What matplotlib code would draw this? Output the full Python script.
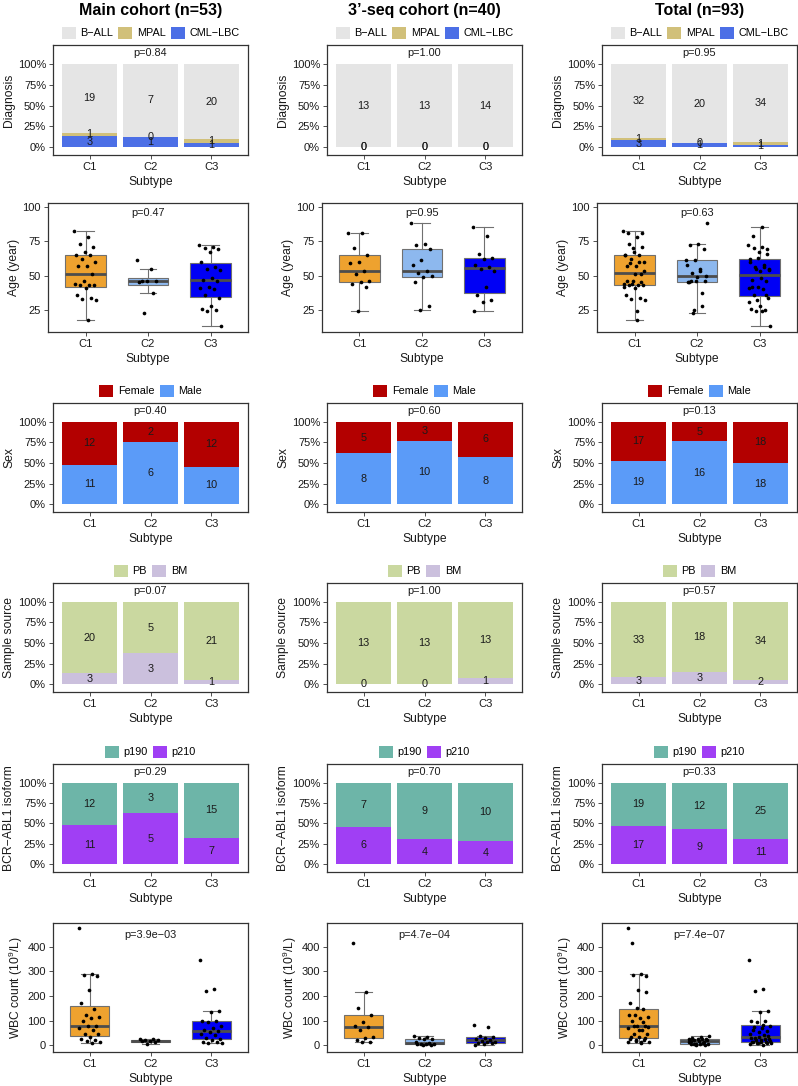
import numpy as np
import matplotlib.pyplot as plt
from matplotlib.patches import Patch

plt.rcParams['font.family'] = ['Liberation Sans', 'DejaVu Sans']
plt.rcParams['mathtext.fontset'] = 'custom'
plt.rcParams['mathtext.rm'] = 'Liberation Sans'
plt.rcParams['mathtext.default'] = 'regular'

MINUS = '\u2212'
subtypes = ['C1', 'C2', 'C3']
cohort_titles = ['Main cohort (n=53)', '3\u2019-seq cohort (n=40)', 'Total (n=93)']

# stacked bar counts: rows = levels (top of stack first), columns = C1, C2, C3
diag_levels = ['B' + MINUS + 'ALL', 'MPAL', 'CML' + MINUS + 'LBC']
diag_colors = ['#E5E5E5', '#D1C07A', '#4C6FE6']
diag_main = [[19, 7, 20], [1, 0, 1], [3, 1, 1]]
diag_seq = [[13, 13, 14], [0, 0, 0], [0, 0, 0]]
diag_total = [[32, 20, 34], [1, 0, 1], [3, 1, 1]]
diag_p = ['0.84', '1.00', '0.95']

sex_levels = ['Female', 'Male']
sex_colors = ['#B30000', '#5B9BF8']
sex_main = [[12, 2, 12], [11, 6, 10]]
sex_seq = [[5, 3, 6], [8, 10, 8]]
sex_total = [[17, 5, 18], [19, 16, 18]]
sex_p = ['0.40', '0.60', '0.13']

src_levels = ['PB', 'BM']
src_colors = ['#CAD8A0', '#CBC0DD']
src_main = [[20, 5, 21], [3, 3, 1]]
src_seq = [[13, 13, 13], [0, 0, 1]]
src_total = [[33, 18, 34], [3, 3, 2]]
src_p = ['0.07', '1.00', '0.57']

bcr_levels = ['p190', 'p210']
bcr_colors = ['#6DB5A8', '#A03FF4']
bcr_main = [[12, 3, 15], [11, 5, 7]]
bcr_seq = [[7, 9, 10], [6, 4, 4]]
bcr_total = [[19, 12, 25], [17, 9, 11]]
bcr_p = ['0.29', '0.70', '0.33']

# age (years) per subtype
age_main_c1 = [82, 78, 73, 71, 67, 65, 65, 62, 60, 57, 57, 51, 46, 44, 43, 43, 43, 41, 36, 34, 33, 32, 18]
age_main_c2 = [61, 55, 46, 46, 46, 45, 37, 23]
age_main_c3 = [72, 71, 70, 69, 67, 60, 56, 55, 54, 48, 47, 46, 42, 41, 40, 36, 34, 28, 26, 25, 24, 13]
age_seq_c1 = [81, 81, 70, 65, 60, 59, 53, 51, 46, 45, 44, 42, 24]
age_seq_c2 = [88, 73, 72, 69, 61, 58, 53, 52, 50, 49, 45, 28, 25]
age_seq_c3 = [85, 79, 66, 63, 62, 58, 56, 55, 53, 42, 36, 32, 31, 24]
age_p = ['0.47', '0.95', '0.63']

# WBC count (10^9/L) per subtype
wbc_main_c1 = [475, 290, 285, 280, 225, 170, 148, 122, 115, 110, 100, 80, 77, 70, 62, 48, 47, 32, 25, 22, 18, 15, 8]
wbc_main_c2 = [27, 24, 22, 20, 18, 16, 12, 6]
wbc_main_c3 = [345, 230, 222, 140, 135, 100, 98, 95, 80, 70, 62, 58, 55, 45, 40, 30, 25, 20, 15, 12, 10, 8]
wbc_seq_c1 = [413, 218, 150, 122, 95, 78, 75, 62, 35, 30, 22, 15, 12]
wbc_seq_c2 = [38, 33, 30, 27, 24, 12, 8, 7, 6, 5, 4, 3, 2]
wbc_seq_c3 = [82, 75, 38, 33, 30, 27, 22, 18, 15, 12, 10, 8, 5, 2]
wbc_p = ['3.9e' + MINUS + '03', '4.7e' + MINUS + '04', '7.4e' + MINUS + '07']

age_groups = [
    [age_main_c1, age_main_c2, age_main_c3],
    [age_seq_c1, age_seq_c2, age_seq_c3],
    [age_main_c1 + age_seq_c1, age_main_c2 + age_seq_c2, age_main_c3 + age_seq_c3],
]
wbc_groups = [
    [wbc_main_c1, wbc_main_c2, wbc_main_c3],
    [wbc_seq_c1, wbc_seq_c2, wbc_seq_c3],
    [wbc_main_c1 + wbc_seq_c1, wbc_main_c2 + wbc_seq_c2, wbc_main_c3 + wbc_seq_c3],
]
box_colors = ['#EEA22F', '#8DB8EE', '#0000F5']

W, H = 798, 1086
col_left = [53, 327, 602]
col_width = 195
rows = [(45, 155), (203, 332), (403, 512), (583, 692), (764, 872), (923, 1052)]
TXT = '#1A1A1A'
FRAME = '#333333'


def make_ax(fig, col, row, shift=0):
    left = col_left[col] - shift
    top, bottom = rows[row]
    ax = fig.add_axes([left / W, 1 - bottom / H, (col_width + shift) / W, (bottom - top) / H])
    for s in ax.spines.values():
        s.set_color(FRAME)
        s.set_linewidth(0.9)
    ax.tick_params(axis='both', direction='out', length=3, width=0.6, color=FRAME,
                   labelsize=8, labelcolor=TXT, pad=2)
    return ax


def finish_x(ax):
    ax.set_xlim(0.4, 3.6)
    ax.set_xticks([1, 2, 3])
    ax.set_xticklabels(subtypes)
    ax.set_xlabel('Subtype', fontsize=8.7, color=TXT, labelpad=3)


def draw_stack(ax, counts, levels, colors, pval, ylabel):
    counts = np.array(counts, dtype=float)
    totals = counts.sum(axis=0)
    x = np.arange(1, 4)
    bottom = np.zeros(3)
    for lvl in reversed(range(len(counts))):
        frac = counts[lvl] / totals
        ax.bar(x, frac, width=0.9, bottom=bottom, color=colors[lvl], linewidth=0)
        for xi, b, f, n in zip(x, bottom, frac, counts[lvl]):
            ax.text(xi, b + f / 2, f'{int(n)}', ha='center', va='center', fontsize=7.8, color=TXT)
        bottom = bottom + frac
    finish_x(ax)
    ax.set_ylim(-0.096, 1.229)
    ax.set_yticks([0, 0.25, 0.5, 0.75, 1.0])
    ax.set_yticklabels(['0%', '25%', '50%', '75%', '100%'])
    ax.set_ylabel(ylabel, fontsize=8.7, color=TXT, labelpad=2)
    ax.text(2, 1.13, 'p=' + pval, ha='center', va='center', fontsize=7.8, color=TXT)
    handles = [Patch(facecolor=c, edgecolor='none', label=l) for l, c in zip(levels, colors)]
    ax.legend(handles=handles, loc='lower center', bbox_to_anchor=(0.5, 1.0), ncol=len(levels),
              frameon=False, fontsize=7.8, handlelength=1.3, handleheight=1.3,
              handletextpad=0.4, columnspacing=0.5, borderaxespad=0.5, borderpad=0.1)


def draw_box(ax, groups, pval, p_y, ylim, yticks, ylabel):
    bp = ax.boxplot(groups, positions=[1, 2, 3], widths=0.65, patch_artist=True,
                    showfliers=False, capwidths=0.27,
                    medianprops=dict(color='#4D4D4D', linewidth=2),
                    boxprops=dict(edgecolor='#707070', linewidth=0.8),
                    whiskerprops=dict(color='#707070', linewidth=0.8),
                    capprops=dict(color='#707070', linewidth=0.8))
    for patch, c in zip(bp['boxes'], box_colors):
        patch.set_facecolor(c)
    for i, g in enumerate(groups):
        g = np.asarray(g, dtype=float)
        offs = ((np.arange(len(g)) * 0.618034) % 1 - 0.5) * 0.36
        ax.scatter(i + 1 + offs, g, s=7, color='black', zorder=5, linewidths=0)
    finish_x(ax)
    ax.set_ylim(*ylim)
    ax.set_yticks(yticks)
    ax.set_ylabel(ylabel, fontsize=8.7, color=TXT, labelpad=2)
    ax.text(2, p_y, 'p=' + pval, ha='center', va='center', fontsize=7.8, color=TXT)


fig = plt.figure(figsize=(W / 100, H / 100), dpi=100)

diag_sets = [diag_main, diag_seq, diag_total]
sex_sets = [sex_main, sex_seq, sex_total]
src_sets = [src_main, src_seq, src_total]
bcr_sets = [bcr_main, bcr_seq, bcr_total]

for c in range(3):
    cx = (col_left[c] + col_width / 2) / W
    fig.text(cx, 1 - 10 / H, cohort_titles[c], ha='center', va='center',
             fontsize=11.5, fontweight='bold', color='black')

    ax = make_ax(fig, c, 0)
    draw_stack(ax, diag_sets[c], diag_levels, diag_colors, diag_p[c], 'Diagnosis')

    ax = make_ax(fig, c, 1, shift=5)
    draw_box(ax, age_groups[c], age_p[c], 95.4, (9.0, 102.7), [25, 50, 75, 100], 'Age (year)')

    ax = make_ax(fig, c, 2)
    draw_stack(ax, sex_sets[c], sex_levels, sex_colors, sex_p[c], 'Sex')

    ax = make_ax(fig, c, 3)
    draw_stack(ax, src_sets[c], src_levels, src_colors, src_p[c], 'Sample source')

    ax = make_ax(fig, c, 4)
    draw_stack(ax, bcr_sets[c], bcr_levels, bcr_colors, bcr_p[c], 'BCR' + MINUS + 'ABL1 isoform')

    ax = make_ax(fig, c, 5)
    draw_box(ax, wbc_groups[c], wbc_p[c], 447, (-27, 496), [0, 100, 200, 300, 400],
             'WBC count (10$^{9}$/L)')

fig.savefig('out.png', dpi=100)
